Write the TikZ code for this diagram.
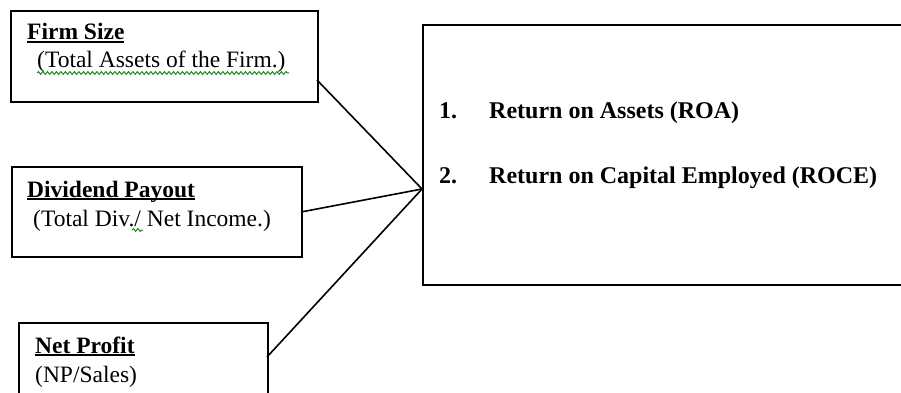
\documentclass[tikz,border=0pt]{standalone}
\usepackage{fontspec}
\setmainfont{Liberation Serif}
\usetikzlibrary{decorations.pathmorphing}
\definecolor{spellgreen}{RGB}{30,140,30}
\newcommand\wordul[1]{\setbox0\hbox{#1}\rlap{\rule[-3pt]{\wd0}{1.6pt}}\box0}
\begin{document}
\begin{tikzpicture}[x=1pt,y=-1pt,
  frame/.style={draw=black,line width=2pt,rectangle,inner sep=0pt,anchor=north west},
  conn/.style={draw=black,line width=1.6pt},
  lbl/.style={anchor=base west,inner sep=0pt,font=\fontsize{23.5}{26}\selectfont},
  rlbl/.style={anchor=base west,inner sep=0pt,font=\fontsize{24}{27}\selectfont\bfseries},
  squig/.style={draw=spellgreen,line width=1pt,decorate,decoration={snake,segment length=4.5pt,amplitude=1.4pt}}]
\useasboundingbox (0,0) rectangle (901,393);
\begin{scope}
\clip (0,0) rectangle (901,393);
% boxes
\node[frame,minimum width=307pt,minimum height=91pt] (b1) at (10,10) {};
\node[frame,minimum width=290pt,minimum height=90pt] (b2) at (11,166) {};
\node[frame,minimum width=249pt,minimum height=100pt] (b3) at (18,322) {};
\node[frame,minimum width=520pt,minimum height=260pt] (out) at (422,24) {};
% connection points
\coordinate (p1) at (317,80);
\coordinate (p2) at (301,212);
\coordinate (p3) at (267,357);
\coordinate (hub) at (422,189);
\draw[conn] (p1) -- (hub);
\draw[conn] (p2) -- (hub);
\draw[conn] (p3) -- (hub);
\end{scope}
% texts
\node[lbl] (t1a) at (27,40) {\bfseries\wordul{Firm Size}};
\node[lbl] (t1b) at (37,68) {(Total Assets of the Firm.)};
\node[lbl] (t2a) at (27,197) {\bfseries\wordul{Dividend Payout}};
\node[lbl] (t2b) at (33,226) {(Total Div./ Net Income.)};
\node[lbl] (t3a) at (35,353) {\bfseries\wordul{Net Profit}};
\node[lbl] (t3b) at (35,382) {(NP/Sales)};
\node[rlbl] (n1) at (439,118) {1.};
\node[rlbl] (r1) at (489,118) {Return on Assets (ROA)};
\node[rlbl] (n2) at (439,183) {2.};
\node[rlbl] (r2) at (489,183) {Return on Capital Employed (ROCE)};
% spell-check squiggles
\coordinate (s1a) at (37,73);
\coordinate (s1b) at (289,73);
\draw[squig] (s1a) -- (s1b);
\coordinate (s2a) at (132,230);
\coordinate (s2b) at (143,230);
\draw[squig] (s2a) -- (s2b);
\end{tikzpicture}
\end{document}
